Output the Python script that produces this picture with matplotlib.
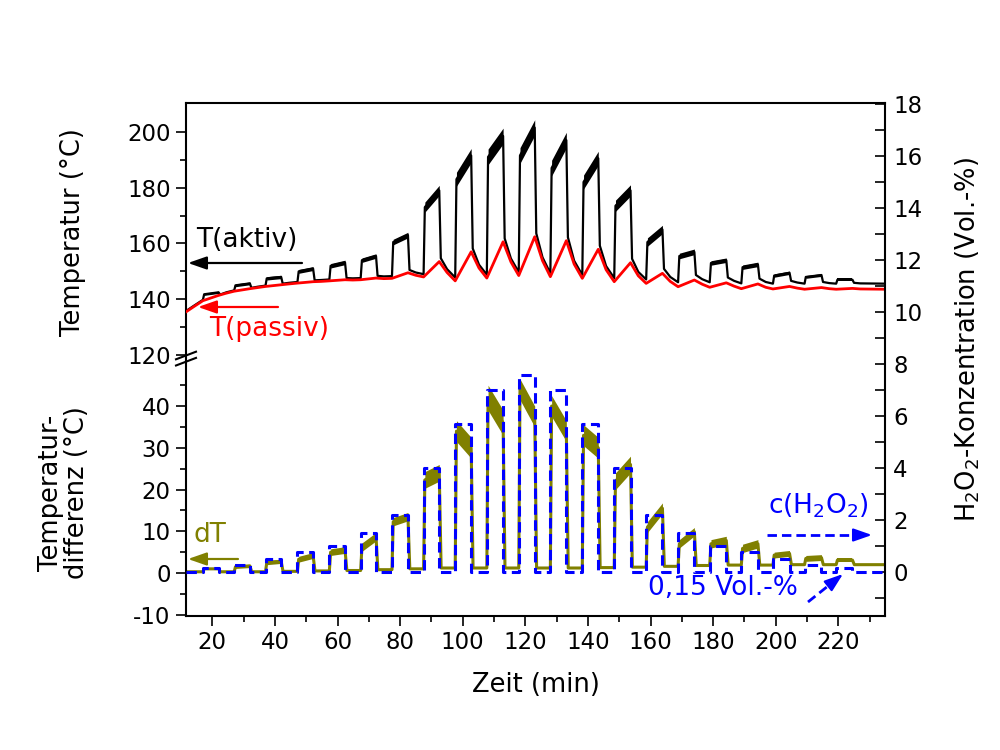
import matplotlib
matplotlib.use("Agg")
import matplotlib.pyplot as plt
from matplotlib.ticker import FixedLocator
from matplotlib.lines import Line2D
from matplotlib.patches import FancyArrowPatch

plt.rcParams['font.family'] = ['DejaVu Sans']
plt.rcParams['mathtext.fontset'] = 'dejavusans'
plt.rcParams['axes.unicode_minus'] = False

# ---------------- data ----------------
t_start, t_end = 11.6, 234.9

pulse_on = [17.0, 27.0, 37.0, 47.2, 57.4, 67.4, 77.4, 87.5, 97.6, 107.7, 117.9,
            128.0, 138.2, 148.4, 158.6, 168.8, 178.9, 189.0, 199.1, 209.2, 219.3]
pulse_off = [22.0, 32.0, 42.0, 52.2, 62.4, 72.3, 82.5, 92.5, 102.7, 112.9, 123.0,
             133.1, 143.3, 153.6, 163.8, 174.0, 184.2, 194.3, 204.4, 214.6, 224.5]
h2o2_conc = [0.15, 0.3, 0.5, 0.8, 1.0, 1.5, 2.2, 4.0, 5.7, 7.0, 7.6,
             7.0, 5.7, 4.0, 2.2, 1.5, 1.0, 0.8, 0.5, 0.3, 0.15]

# T(passiv)
passiv_start_t = [11.6, 14.0]
passiv_start = [135.5, 137.3]
passiv_trough = [139.5, 142.9, 144.6, 145.8, 146.6, 147.0, 147.5, 148.0, 146.6, 147.6, 148.5,
                 148.1, 147.5, 146.3, 145.7, 144.5, 144.3, 143.8, 143.7, 143.6, 143.6]
passiv_peak = [141.4, 143.8, 145.2, 146.3, 147.0, 147.6, 149.5, 153.5, 157.0, 160.6, 162.4,
               161.0, 157.9, 153.1, 149.3, 146.9, 145.9, 145.5, 144.6, 144.2, 143.9]
passiv_decay = [142.2, 144.2, 145.5, 146.4, 146.9, 147.4, 148.6, 149.6, 151.2, 153.4, 153.8,
                152.6, 150.6, 148.4, 146.4, 145.4, 144.7, 144.3, 144.0, 143.8, 143.7]
passiv_end = 143.6

# T(aktiv) plateaus
aktiv_on = [141.8, 145.0, 147.5, 150.0, 152.0, 154.0, 160.5, 173.0, 183.0, 191.0, 191.5,
            187.0, 182.0, 173.5, 160.5, 155.5, 153.0, 151.5, 148.5, 148.0, 147.0]
aktiv_off = [142.5, 145.7, 148.0, 151.0, 153.2, 155.5, 163.0, 179.0, 191.5, 198.5, 201.5,
             197.0, 190.5, 179.0, 165.0, 157.0, 154.0, 152.5, 149.5, 148.7, 147.0]
aktiv_band = [0.4, 0.5, 0.6, 0.7, 0.8, 0.8, 1.0, 1.8, 2.5, 2.8, 2.8,
              2.8, 2.5, 2.0, 1.5, 1.0, 0.8, 0.8, 0.6, 0.5, 0.5]

# dT
dT_start = 0.3
dT_end = 2.0
dT_base = [0.3, 0.3, 0.3, 0.4, 0.5, 0.6, 0.8, 1.0, 1.2, 1.2, 1.2,
           1.2, 1.2, 1.3, 1.4, 1.6, 1.8, 1.9, 1.9, 2.0, 2.0]
dT_on = [1.0, 1.5, 2.5, 3.3, 5.0, 6.2, 12.3, 22.3, 34.0, 42.0, 44.0,
         40.0, 33.0, 22.0, 11.0, 7.0, 7.0, 5.9, 4.3, 3.5, 3.1]
dT_off = [1.0, 1.7, 2.8, 4.2, 5.5, 8.7, 13.5, 24.0, 30.0, 36.0, 37.5,
          34.0, 30.0, 26.0, 15.5, 9.9, 7.8, 7.0, 4.7, 3.7, 3.1]
dT_band = [0.3, 0.4, 0.5, 0.7, 0.8, 1.0, 1.0, 2.0, 2.5, 3.0, 2.5,
           2.5, 2.5, 2.0, 1.3, 1.0, 1.0, 1.0, 0.7, 0.7, 0.5]

BLACK, RED, OLIVE, BLUE = '#000000', '#ff0000', '#808000', '#0000ff'
n = len(pulse_on)

# ---------------- build polylines from the read values ----------------
def nxt(arr, i, last):
    return arr[i + 1] if i + 1 < n else last

pt, py = list(passiv_start_t), list(passiv_start)
for i in range(n):
    pt += [pulse_on[i], pulse_off[i], pulse_off[i] + 2.5]
    py += [passiv_trough[i], passiv_peak[i], passiv_decay[i]]
pt.append(t_end); py.append(passiv_end)

at, ay = list(passiv_start_t), [p + dT_start for p in passiv_start]
for i in range(n):
    bn = nxt(dT_base, i, dT_end)
    at += [pulse_on[i], pulse_on[i] + 0.4, pulse_off[i], pulse_off[i] + 0.5, pulse_off[i] + 2.5]
    ay += [passiv_trough[i] + dT_base[i], aktiv_on[i], aktiv_off[i],
           passiv_peak[i] + bn, passiv_decay[i] + bn]
at.append(t_end); ay.append(passiv_end + dT_end)

dt, dy = [t_start], [dT_start]
for i in range(n):
    bn = nxt(dT_base, i, dT_end)
    dt += [pulse_on[i], pulse_on[i] + 0.4, pulse_off[i], pulse_off[i] + 0.6]
    dy += [dT_base[i], dT_on[i], dT_off[i], bn]
dt.append(t_end); dy.append(dT_end)

ct, cy = [t_start], [0.0]
for on, off, c in zip(pulse_on, pulse_off, h2o2_conc):
    ct += [on, on, off, off]
    cy += [0.0, c, c, 0.0]
ct.append(t_end); cy.append(0.0)

# ---------------- figure layout ----------------
W, H = 1000, 750
fig = plt.figure(figsize=(10, 7.5), dpi=100)
fx = lambda x: x / W
fy = lambda y: 1 - y / H

L, R, T, B, BRK = 186, 885, 103, 616, 361
ax_top = fig.add_axes([fx(L), fy(BRK), fx(R - L), fy(T) - fy(BRK)])
ax_bot = fig.add_axes([fx(L), fy(B), fx(R - L), fy(BRK) - fy(B)])
ax_r = fig.add_axes([fx(L), fy(B), fx(R - L), fy(T) - fy(B)])
for a in (ax_top, ax_bot, ax_r):
    a.set_facecolor('none')
    a.set_xlim(t_start, t_end)

# top: temperatures
ax_top.plot(at, ay, color=BLACK, lw=1.6, zorder=2)
for i in range(n):
    ax_top.fill_between([pulse_on[i] + 0.4, pulse_off[i]],
                        [aktiv_on[i] - aktiv_band[i], aktiv_off[i] - aktiv_band[i]],
                        [aktiv_on[i] + aktiv_band[i], aktiv_off[i] + aktiv_band[i]],
                        color=BLACK, lw=0, zorder=2)
ax_top.plot(pt, py, color=RED, lw=2.0, zorder=3)
ax_top.set_ylim(117.9, 210.3)
ax_top.yaxis.set_major_locator(FixedLocator([120, 140, 160, 180, 200]))
ax_top.yaxis.set_minor_locator(FixedLocator([130, 150, 170, 190]))

# bottom: dT
ax_bot.plot(dt, dy, color=OLIVE, lw=2.2, zorder=2)
for i in range(n):
    ax_bot.fill_between([pulse_on[i] + 0.4, pulse_off[i]],
                        [dT_on[i] - dT_band[i], dT_off[i] - dT_band[i]],
                        [dT_on[i] + dT_band[i], dT_off[i] + dT_band[i]],
                        color=OLIVE, lw=0, zorder=2)
ax_bot.set_ylim(-10.3, 50.8)
ax_bot.yaxis.set_major_locator(FixedLocator([-10, 0, 10, 20, 30, 40]))
ax_bot.yaxis.set_minor_locator(FixedLocator([-5, 5, 15, 25, 35, 45]))
ax_bot.xaxis.set_major_locator(FixedLocator(list(range(20, 221, 20))))
ax_bot.xaxis.set_minor_locator(FixedLocator(list(range(10, 231, 10))))

# right: concentration
ax_r.plot(ct, cy, color=BLUE, lw=2.2, linestyle=(0, (3.4, 1.8)), zorder=3)
ax_r.set_ylim(-1.68, 18.05)
ax_r.yaxis.set_major_locator(FixedLocator(list(range(0, 19, 2))))
ax_r.yaxis.set_minor_locator(FixedLocator(list(range(-1, 18, 2))))

# spines / ticks
SPW = 1.5
for a in (ax_top, ax_bot):
    for s in ('top', 'right', 'bottom'):
        a.spines[s].set_visible(False)
    a.spines['left'].set_linewidth(SPW)
    a.tick_params(axis='y', which='both', direction='out', width=1.2, labelsize=16.5, pad=4)
    a.tick_params(axis='y', which='major', length=7)
    a.tick_params(axis='y', which='minor', length=4)
ax_top.tick_params(axis='x', which='both', bottom=False, labelbottom=False)
ax_bot.tick_params(axis='x', which='both', direction='out', width=1.2, labelsize=16.5, pad=4)
ax_bot.tick_params(axis='x', which='major', length=7)
ax_bot.tick_params(axis='x', which='minor', length=4)

ax_r.spines['left'].set_visible(False)
for s in ('top', 'right', 'bottom'):
    ax_r.spines[s].set_linewidth(SPW)
ax_r.tick_params(axis='x', which='both', bottom=False, labelbottom=False)
ax_r.tick_params(axis='y', which='both', left=False, labelleft=False, right=True, labelright=True,
                 direction='in', length=7, width=1.2, labelsize=16.5, pad=6)

# axis break marks
for yb in (355.5, 361.7):
    fig.add_artist(Line2D([fx(L - 10), fx(L + 10)], [fy(yb + 3.8), fy(yb - 3.8)],
                          color=BLACK, lw=1.5, transform=fig.transFigure))

# axis labels
fig.text(fx(73), fy(232), 'Temperatur (°C)', rotation=90, ha='center', va='center', fontsize=18.5)
fig.text(fx(64), fy(493), 'Temperatur-\ndifferenz (°C)', rotation=90, ha='center', va='center',
         fontsize=18.5, linespacing=0.95)
fig.text(fx(968), fy(340), 'H$_2$O$_2$-Konzentration (Vol.-%)', rotation=90, ha='center',
         va='center', fontsize=18.5)
fig.text(fx(536), fy(685), 'Zeit (min)', ha='center', va='center', fontsize=18.5)

# annotations
HEAD = '-|>,head_length=0.8,head_width=0.28'

def arrow(x0, y0, x1, y1, color, ls='-'):
    if ls == '-':
        fig.add_artist(FancyArrowPatch((fx(x0), fy(y0)), (fx(x1), fy(y1)),
                                       transform=fig.transFigure, color=color, lw=1.6,
                                       arrowstyle=HEAD, mutation_scale=14, shrinkA=0, shrinkB=0))
    else:
        fr = 0.82
        xm, ym = x0 + (x1 - x0) * fr, y0 + (y1 - y0) * fr
        fig.add_artist(Line2D([fx(x0), fx(xm)], [fy(y0), fy(ym)], color=color, lw=2.0,
                              linestyle=(0, (3.4, 1.8)), transform=fig.transFigure))
        fig.add_artist(FancyArrowPatch((fx(xm), fy(ym)), (fx(x1), fy(y1)),
                                       transform=fig.transFigure, color=color, lw=1.6,
                                       arrowstyle=HEAD, mutation_scale=14, shrinkA=0, shrinkB=0))

fig.text(fx(247), fy(240), 'T(aktiv)', ha='center', va='center', fontsize=19, color=BLACK)
arrow(302, 263, 188, 263, BLACK)
fig.text(fx(269), fy(329), 'T(passiv)', ha='center', va='center', fontsize=19, color=RED)
arrow(278, 307, 198, 307, RED)
fig.text(fx(210), fy(535), 'dT', ha='center', va='center', fontsize=19, color=OLIVE)
arrow(238, 559, 188, 559, OLIVE)
fig.text(fx(818), fy(506), 'c(H$_2$O$_2$)', ha='center', va='center', fontsize=19, color=BLUE)
arrow(767, 535, 872, 535, BLUE, ls='--')
fig.text(fx(723), fy(588), '0,15 Vol.-%', ha='center', va='center', fontsize=19, color=BLUE)
arrow(808, 602, 843, 574, BLUE, ls='--')

fig.savefig('out.png', dpi=100)
